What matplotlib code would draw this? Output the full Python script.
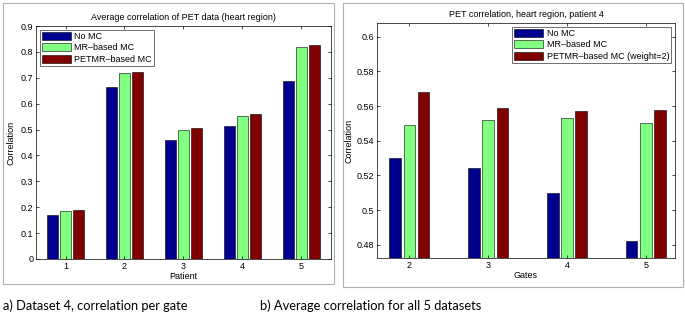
import numpy as np
import matplotlib
matplotlib.use("Agg")
import matplotlib.pyplot as plt
from matplotlib.patches import Rectangle

# left panel: average correlation per patient
patients = [1, 2, 3, 4, 5]
left_nomc = [0.170, 0.663, 0.459, 0.512, 0.688]
left_mr = [0.187, 0.718, 0.500, 0.552, 0.820]
left_petmr = [0.188, 0.722, 0.506, 0.560, 0.828]

# right panel: patient 4, correlation per gate
gates = [2, 3, 4, 5]
right_nomc = [0.530, 0.524, 0.510, 0.482]
right_mr = [0.549, 0.552, 0.553, 0.550]
right_petmr = [0.568, 0.559, 0.557, 0.558]

colors = ["#00008f", "#80ff80", "#800000"]
fs = 6.5

plt.rcParams["font.family"] = ["Liberation Sans", "DejaVu Sans"]

fig = plt.figure(figsize=(6.85, 3.24), dpi=100)
W, H = 685, 324

def px_axes(x0, y0, x1, y1):
    return fig.add_axes([x0 / W, 1 - y1 / H, (x1 - x0) / W, (y1 - y0) / H])

# grey frames round each panel
for (x0, y0, x1, y1) in [(3, 3, 334, 284), (343, 3, 683, 287)]:
    fig.patches.append(Rectangle((x0 / W, 1 - y1 / H), (x1 - x0) / W, (y1 - y0) / H,
                                 transform=fig.transFigure, fill=False,
                                 edgecolor="#b0b0b0", linewidth=0.8))

def grouped(ax, xs, series, labels, width, offset):
    xs = np.array(xs, dtype=float)
    for i, (vals, lab) in enumerate(zip(series, labels)):
        ax.bar(xs + (i - 1) * offset, vals, width, color=colors[i],
               edgecolor="black", linewidth=0.4, label=lab)
    ax.tick_params(direction="in", top=True, right=True, labelsize=fs,
                   length=2.5, width=0.5, pad=2)
    for s in ax.spines.values():
        s.set_linewidth(0.5)

def legend(ax, loc):
    leg = ax.legend(loc=loc, fontsize=fs, frameon=True, fancybox=False,
                    handlelength=3.2, handleheight=1.0, borderaxespad=0.4,
                    labelspacing=0.25, borderpad=0.25, handletextpad=0.4)
    leg.get_frame().set_edgecolor("black")
    leg.get_frame().set_linewidth(0.5)

ax1 = px_axes(36, 26, 331, 259)
grouped(ax1, patients, [left_nomc, left_mr, left_petmr],
        ["No MC", "MR\u2013based MC", "PETMR\u2013based MC"], 0.19, 0.22)
ax1.set_xlim(0.5, 5.5)
ax1.set_ylim(0, 0.9)
ax1.set_xticks(patients)
ax1.set_yticks(np.arange(0, 0.91, 0.1))
ax1.set_yticklabels(["0"] + [f"{v:.1f}" for v in np.arange(0.1, 0.91, 0.1)])
ax1.set_title("Average correlation of PET data (heart region)", fontsize=fs, pad=4)
ax1.set_xlabel("Patient", fontsize=fs, labelpad=1)
ax1.set_ylabel("Correlation", fontsize=fs, labelpad=4)
legend(ax1, "upper left")

ax2 = px_axes(377, 23, 675, 258)
grouped(ax2, gates, [right_nomc, right_mr, right_petmr],
        ["No MC", "MR\u2013based MC", "PETMR\u2013based MC (weight=2)"], 0.145, 0.18)
ax2.set_xlim(1.59, 5.37)
ax2.set_ylim(0.4723, 0.608)
ax2.set_xticks(gates)
ax2.set_yticks([0.48, 0.50, 0.52, 0.54, 0.56, 0.58, 0.60])
ax2.set_yticklabels(["0.48", "0.5", "0.52", "0.54", "0.56", "0.58", "0.6"])
ax2.set_title("PET correlation, heart region, patient 4", fontsize=fs, pad=4)
ax2.set_xlabel("Gates", fontsize=fs, labelpad=1)
ax2.set_ylabel("Correlation", fontsize=fs, labelpad=2)
legend(ax2, "upper right")

# captions under the panels
cap_font = ["Lato", "DejaVu Sans"]
fig.text(3 / W, 1 - 306 / H, "a) Dataset 4, correlation per gate",
         fontsize=9.3, family=cap_font, va="center")
fig.text(260 / W, 1 - 306 / H, "b) Average correlation for all 5 datasets",
         fontsize=9.3, family=cap_font, va="center")

fig.savefig("out.png", dpi=100)
